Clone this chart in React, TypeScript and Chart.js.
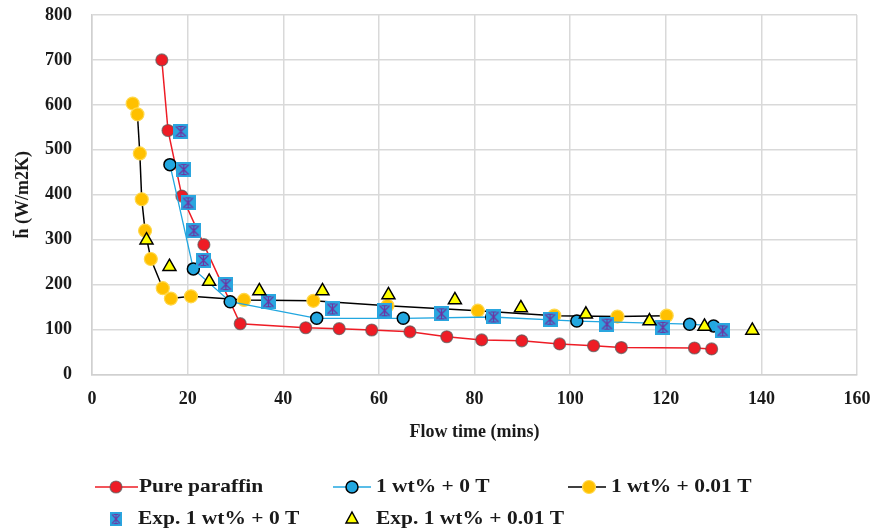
import React, { useEffect, useRef } from "react";
import { Chart, registerables } from "chart.js";
Chart.register(...registerables);

// ---- data ----
const paraffinX = [14.6, 15.9, 18.8, 23.4, 31.0, 44.7, 51.7, 58.5, 66.5, 74.2, 81.5, 89.9, 97.8, 104.9, 110.7, 126.0, 129.6];
const paraffinY = [700, 543, 397, 289, 113, 104, 102, 99, 95, 84, 77, 75, 68, 64, 60, 59, 57];

const wt0X = [16.3, 21.2, 28.9, 47.0, 65.1, 83.6, 101.4, 125.0, 130.0];
const wt0Y = [467, 235, 162, 125, 125, 128, 119, 112, 108];

const wt001X = [8.5, 9.5, 10.0, 10.4, 11.1, 12.3, 14.8, 16.5, 20.7, 31.8, 46.3, 61.8, 80.7, 96.7, 109.9, 120.2];
const wt001Y = [603, 579, 492, 390, 320, 257, 192, 169, 174, 166, 164, 153, 142, 131, 129, 131];

const exp0X = [18.6, 19.2, 20.1, 21.3, 23.3, 28.0, 36.9, 50.3, 61.2, 73.1, 84.0, 95.8, 107.7, 119.4, 131.9];
const exp0Y = [541, 456, 382, 320, 254, 200, 162, 146, 142, 135, 128, 123, 112, 105, 97];

const exp001X = [11.4, 16.2, 24.5, 35.0, 48.2, 62.0, 75.9, 89.7, 103.3, 116.6, 128.1, 138.1];
const exp001Y = [299, 240, 207, 186, 186, 177, 166, 148, 134, 119, 107, 98];

const xTicks = [0, 20, 40, 60, 80, 100, 120, 140, 160];
const yTicks = [0, 100, 200, 300, 400, 500, 600, 700, 800];

const legendLabels = [
  "Pure paraffin",
  "1 wt% + 0 T",
  "1 wt% + 0.01 T",
  "Exp. 1 wt% + 0 T",
  "Exp. 1 wt% + 0.01 T",
];

const RED = "#ee1c25";
const BLUE = "#22a7e0";
const GOLD = "#ffc000";
const YELLOW = "#ffff00";
const PURPLE = "#7030a0";
const FONT = "'Liberation Serif', 'Times New Roman', serif";

const toPts = (xs: number[], ys: number[]) => xs.map((x, i) => ({ x, y: ys[i] }));

function makeSquareX(size: number) {
  const c = document.createElement("canvas");
  c.width = size;
  c.height = size;
  const g = c.getContext("2d")!;
  g.fillStyle = "#2aa6df";
  g.fillRect(0, 0, size, size);
  g.strokeStyle = PURPLE;
  g.lineWidth = 1.2;
  const m = 2.5;
  g.beginPath();
  g.moveTo(m, m);
  g.lineTo(size - m, size - m);
  g.moveTo(size - m, m);
  g.lineTo(m, size - m);
  g.moveTo(size / 2, m);
  g.lineTo(size / 2, size - m);
  g.moveTo(size / 2 - 3, m);
  g.lineTo(size / 2 + 3, m);
  g.moveTo(size / 2 - 3, size - m);
  g.lineTo(size / 2 + 3, size - m);
  g.stroke();
  return c;
}

export default function App() {
  const ref = useRef<HTMLCanvasElement | null>(null);

  useEffect(() => {
    const canvas = ref.current;
    if (!canvas) return;
    const sq = makeSquareX(15);

    const drawText = (ctx: CanvasRenderingContext2D, t: string, x: number, y: number) => {
      ctx.save();
      ctx.translate(x, y);
      ctx.scale(1.13, 1);
      ctx.fillText(t, 0, 0);
      ctx.restore();
    };
    const circle = (ctx: CanvasRenderingContext2D, x: number, y: number, r: number, fill: string, stroke: string, lw: number) => {
      ctx.beginPath();
      ctx.arc(x, y, r, 0, Math.PI * 2);
      ctx.fillStyle = fill;
      ctx.fill();
      ctx.lineWidth = lw;
      ctx.strokeStyle = stroke;
      ctx.stroke();
    };
    const line = (ctx: CanvasRenderingContext2D, x1: number, x2: number, y: number, c: string, lw: number) => {
      ctx.beginPath();
      ctx.moveTo(x1, y);
      ctx.lineTo(x2, y);
      ctx.strokeStyle = c;
      ctx.lineWidth = lw;
      ctx.stroke();
    };

    const legendPlugin = {
      id: "customLegend",
      afterDraw(chart: any) {
        const ctx: CanvasRenderingContext2D = chart.ctx;
        ctx.save();
        const r1 = 487;
        const r2 = 519;
        line(ctx, 95, 138, r1, RED, 1.5);
        circle(ctx, 116, r1, 6, RED, "rgba(90,90,90,0.7)", 1.2);
        line(ctx, 333, 371, r1, BLUE, 1.5);
        circle(ctx, 352, r1, 6, BLUE, "#000", 1.5);
        line(ctx, 568, 606, r1, "#000", 1.5);
        circle(ctx, 589, r1, 6.5, GOLD, "#ffd84a", 1.2);
        ctx.drawImage(sq, 116 - 6, r2 - 7, 12, 14);
        ctx.beginPath();
        ctx.moveTo(352, r2 - 7);
        ctx.lineTo(358, r2 + 4);
        ctx.lineTo(346, r2 + 4);
        ctx.closePath();
        ctx.fillStyle = YELLOW;
        ctx.fill();
        ctx.strokeStyle = "#000";
        ctx.lineWidth = 1.5;
        ctx.stroke();

        ctx.fillStyle = "#1a1a1a";
        ctx.font = `bold 19px ${FONT}`;
        ctx.textBaseline = "middle";
        ctx.textAlign = "left";
        drawText(ctx, legendLabels[0], 139, r1);
        drawText(ctx, legendLabels[1], 376, r1);
        drawText(ctx, legendLabels[2], 611, r1);
        drawText(ctx, legendLabels[3], 138, r2);
        drawText(ctx, legendLabels[4], 376, r2);
        ctx.restore();
      },
    };

    const chart = new Chart(canvas, {
      type: "line",
      data: {
        datasets: [
          {
            label: legendLabels[4],
            data: toPts(exp001X, exp001Y),
            showLine: false,
            pointStyle: "triangle",
            pointRadius: 7.5,
            backgroundColor: YELLOW,
            borderColor: "#000",
            pointBorderWidth: 1.5,
            order: 0,
          },
          {
            label: legendLabels[3],
            data: toPts(exp0X, exp0Y),
            showLine: false,
            pointStyle: sq as any,
            pointRadius: 7,
            backgroundColor: BLUE,
            borderColor: PURPLE,
            order: 1,
          },
          {
            label: legendLabels[1],
            data: toPts(wt0X, wt0Y),
            borderColor: BLUE,
            borderWidth: 1.3,
            pointRadius: 6,
            pointBackgroundColor: BLUE,
            pointBorderColor: "#000",
            pointBorderWidth: 1.5,
            order: 2,
          },
          {
            label: legendLabels[2],
            data: toPts(wt001X, wt001Y),
            borderColor: "#000",
            borderWidth: 1.5,
            pointRadius: 6.5,
            pointBackgroundColor: GOLD,
            pointBorderColor: "#ffd84a",
            pointBorderWidth: 1.2,
            order: 3,
          },
          {
            label: legendLabels[0],
            data: toPts(paraffinX, paraffinY),
            borderColor: RED,
            borderWidth: 1.5,
            pointRadius: 6,
            pointBackgroundColor: RED,
            pointBorderColor: "rgba(90,90,90,0.7)",
            pointBorderWidth: 1.2,
            order: 4,
          },
        ],
      },
      options: {
        animation: false,
        responsive: false,
        devicePixelRatio: 1,
        layout: { padding: { top: 15, right: 22, bottom: 0, left: 0 } },
        plugins: { legend: { display: false }, tooltip: { enabled: false } },
        elements: { line: { tension: 0 } },
        scales: {
          x: {
            type: "linear",
            min: 0,
            max: 160,
            afterBuildTicks: (s: any) => {
              s.ticks = xTicks.map((v) => ({ value: v }));
            },
            afterFit: (s: any) => {
              s.height = 157.5;
              s.paddingLeft = 0;
              s.paddingRight = 0;
            },
            grid: { color: "#d9d9d9", lineWidth: 1.5, drawTicks: false },
            border: { color: "#d0d0d0", width: 1.5 },
            ticks: {
              padding: 14,
              color: "#1a1a1a",
              font: { family: FONT, size: 18, weight: "bold" },
            },
            title: {
              display: true,
              text: "Flow time (mins)",
              color: "#1a1a1a",
              font: { family: FONT, size: 18, weight: "bold" },
              padding: { top: 0, bottom: 89 },
            },
          },
          y: {
            type: "linear",
            min: 0,
            max: 800,
            afterBuildTicks: (s: any) => {
              s.ticks = yTicks.map((v) => ({ value: v }));
            },
            afterFit: (s: any) => {
              s.width = 92;
              s.paddingTop = 0;
              s.paddingBottom = 0;
            },
            grid: { color: "#d9d9d9", lineWidth: 1.5, drawTicks: false },
            border: { color: "#d0d0d0", width: 1.5 },
            ticks: {
              padding: 20,
              color: "#1a1a1a",
              font: { family: FONT, size: 18, weight: "bold" },
            },
            title: {
              display: true,
              text: "h\u0304 (W/m2K)",
              color: "#1a1a1a",
              font: { family: FONT, size: 18, weight: "bold" },
              padding: { top: 13, bottom: 0 },
            },
          },
        },
      } as any,
      plugins: [legendPlugin],
    });
    return () => chart.destroy();
  }, []);

  return (
    <div style={{ position: "fixed", left: 0, top: 0, width: 879, height: 532, background: "#fff" }}>
      <canvas ref={ref} width={879} height={532} style={{ width: 879, height: 532, display: "block" }} />
    </div>
  );
}
